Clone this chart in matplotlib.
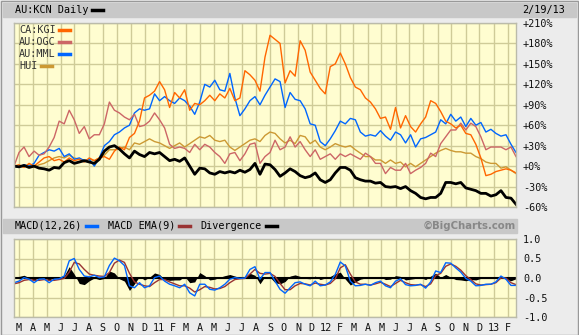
import matplotlib
matplotlib.use("Agg")
import matplotlib.pyplot as plt
import matplotlib.dates as mdates
from matplotlib.patches import Rectangle
import numpy as np
import pandas as pd

# percent change since 2/19/10, one reading roughly every 11 days
kcn = [0, -1, 1, -2, 0, -3, -4, -6, -2, -3, 5, 8, 4, 6, 8, 6, 4, 10, 22, 28,
       30, 25, 18, 12, 22, 17, 14, 20, 18, 20, 14, 8, 10, 7, 12, 0, -12, -3, -4, -10,
       -12, -8, -10, -8, -10, -6, -9, -5, 4, -12, 3, 2, -5, -15, -10, -4, -8, -14, -17, -15,
       -10, -20, -24, -20, -10, -2, -2, -6, -17, -20, -22, -22, -25, -24, -30, -31, -30, -33, -30, -36,
       -40, -46, -48, -46, -46, -40, -24, -24, -26, -24, -32, -34, -36, -40, -40, -44, -42, -36, -46, -47,
       -56]
kgi = [0, 2, -2, 4, 0, 6, 12, 14, 8, 10, 6, 12, 8, 10, 6, 12, 8, 12, 14, 10,
       22, 28, 24, 42, 48, 66, 100, 104, 110, 124, 112, 86, 108, 100, 112, 82, 92, 90, 96, 104,
       96, 106, 100, 114, 96, 100, 140, 134, 126, 110, 160, 192, 186, 180, 122, 140, 132, 184, 170, 138,
       126, 114, 106, 146, 150, 166, 150, 130, 116, 112, 100, 94, 84, 70, 72, 54, 86, 56, 74, 58,
       50, 62, 72, 96, 92, 80, 66, 62, 56, 60, 48, 46, 32, 12, -14, -12, -8, -6, -4, -6,
       -10]
ogc = [0, 20, 28, 14, 22, 16, 18, 28, 42, 66, 62, 82, 68, 48, 58, 40, 46, 46, 62, 94,
       82, 78, 72, 68, 76, 58, 60, 66, 78, 68, 56, 32, 26, 28, 26, 20, 32, 24, 32, 28,
       20, 14, 4, 18, 20, 8, 18, 32, 34, 4, 14, 20, 38, 24, 28, 43, 28, 36, 24, 14,
       24, 10, 14, 18, 10, 18, 14, 18, 14, 10, 19, 14, 4, 4, -11, -2, -6, -6, 4, -11,
       -6, -2, 4, 19, 14, 33, 43, 53, 53, 63, 53, 63, 58, 43, 24, 28, 28, 28, 24, 28,
       14]
mml = [0, -2, 2, 0, 4, 16, 20, 24, 22, 26, 14, 18, 10, 12, 8, 10, 0, 12, 30, 36,
       46, 50, 56, 60, 78, 84, 82, 84, 106, 96, 102, 96, 92, 100, 96, 88, 76, 94, 120, 116,
       126, 112, 110, 136, 100, 74, 84, 96, 102, 90, 104, 116, 128, 124, 86, 108, 98, 96, 84, 62,
       60, 36, 30, 40, 52, 66, 62, 70, 68, 50, 44, 46, 44, 52, 44, 38, 50, 46, 34, 46,
       28, 40, 42, 46, 50, 68, 62, 76, 66, 72, 58, 70, 60, 64, 50, 54, 48, 44, 46, 32,
       20]
hui = [0, -2, 0, 2, -2, 2, 4, 8, 12, 14, 12, 16, 12, 10, 8, 10, 8, 12, 16, 24,
       24, 26, 28, 24, 34, 32, 36, 40, 36, 34, 30, 26, 30, 34, 28, 33, 38, 43, 41, 45,
       38, 36, 38, 28, 23, 28, 33, 38, 40, 36, 45, 50, 48, 40, 34, 38, 33, 45, 43, 33,
       38, 28, 24, 28, 33, 30, 28, 30, 24, 19, 14, 14, 9, 9, 4, 9, 4, 6, -1, 4,
       -1, 4, 9, 14, 19, 23, 26, 23, 21, 21, 19, 19, 14, 11, 6, 4, 4, -3, -1, -6,
       -11]

macd = [-0.12, -0.08, 0.01, -0.03, -0.12, -0.03, -0.02, -0.12, -0.03, -0.02,
        0.05, 0.44, 0.50, 0.22, 0.05, 0.03, 0.07, 0.01, 0.03, 0.32,
        0.51, 0.44, 0.32, -0.20, -0.25, -0.12, -0.25, -0.20, 0.01, 0.05,
        -0.08, -0.16, -0.20, -0.25, -0.16, -0.38, -0.46, -0.16, -0.16, -0.29,
        -0.31, -0.25, -0.16, -0.03, 0.01, -0.01, 0.00, 0.22, 0.29, -0.03,
        0.14, 0.14, -0.08, -0.29, -0.39, -0.25, -0.12, -0.10, -0.16, -0.20,
        -0.08, -0.20, -0.18, -0.10, 0.09, 0.41, 0.31, -0.08, -0.20, -0.19,
        -0.16, -0.19, -0.12, -0.08, -0.20, -0.25, -0.08, -0.02, -0.17, -0.20,
        -0.19, -0.16, -0.26, -0.10, 0.18, 0.14, 0.39, 0.38, 0.26, 0.15,
        -0.01, -0.08, -0.20, -0.19, -0.16, -0.16, -0.10, 0.05, -0.03, -0.19,
        -0.19]
signal = [-0.15, -0.12, -0.06, -0.04, -0.06, -0.06, -0.04, -0.06, -0.06, -0.04,
          -0.01, 0.15, 0.40, 0.36, 0.22, 0.10, 0.07, 0.05, 0.04, 0.14,
          0.38, 0.46, 0.40, 0.12, -0.10, -0.16, -0.20, -0.22, -0.12, -0.04,
          -0.04, -0.10, -0.15, -0.20, -0.20, -0.26, -0.36, -0.30, -0.22, -0.24,
          -0.28, -0.27, -0.22, -0.12, -0.04, -0.02, -0.01, 0.10, 0.22, 0.12,
          0.10, 0.12, 0.04, -0.14, -0.30, -0.30, -0.20, -0.14, -0.15, -0.18,
          -0.13, -0.16, -0.18, -0.14, -0.02, 0.26, 0.34, 0.10, -0.10, -0.16,
          -0.16, -0.18, -0.15, -0.11, -0.16, -0.22, -0.14, -0.06, -0.12, -0.17,
          -0.18, -0.17, -0.22, -0.15, 0.06, 0.12, 0.30, 0.36, 0.30, 0.20,
          0.06, -0.04, -0.15, -0.18, -0.17, -0.16, -0.12, 0.00, 0.00, -0.12,
          -0.17]

dates = pd.date_range("2010-02-19", "2013-02-19", periods=len(kcn))
divergence = np.array(macd) - np.array(signal)

series = [("CA:KGI", kgi, "#ff6600", 1.0),
          ("AU:OGC", ogc, "#cc6666", 1.0),
          ("AU:MML", mml, "#0066ff", 1.0),
          ("HUI", hui, "#cc9933", 1.0)]

bg = "#ececec"
plot_bg = "#fffdd0"
grid_c = "#cfcb98"
mono = "DejaVu Sans Mono"

fig = plt.figure(figsize=(5.79, 3.35), dpi=100, facecolor=bg)

# header bars
fig.patches.append(Rectangle((3 / 579, 1 - 17 / 335), 573 / 579, 14 / 335,
                             transform=fig.transFigure, color="#c8c8c8", zorder=0))
fig.patches.append(Rectangle((3 / 579, 1 - 233 / 335), 514 / 579, 14 / 335,
                             transform=fig.transFigure, color="#c8c8c8", zorder=0))
fig.patches.append(Rectangle((0.5 / 579, 0.5 / 335), 577.5 / 579, 333.5 / 335, fill=False,
                             transform=fig.transFigure, ec="#999999", lw=1, zorder=0))


def style_axes(ax):
    ax.set_facecolor(plot_bg)
    ax.xaxis.set_major_locator(mdates.MonthLocator())
    ax.grid(True, color=grid_c, lw=1.0)
    ax.set_axisbelow(True)
    ax.yaxis.tick_right()
    ax.tick_params(length=0, labelsize=7.3, pad=5, colors="#111111")
    for lab in ax.get_yticklabels():
        lab.set_family(mono)
    for s in ax.spines.values():
        s.set_color("#bbbbaa")
        s.set_linewidth(1)
    ax.set_xlim(dates[0], dates[-1])


ax = fig.add_axes([14 / 579, 1 - 207 / 335, 502 / 579, 184 / 335])
style_axes(ax)
ax.set_ylim(-60, 210)
ax.set_yticks(range(-60, 211, 30))
ax.set_yticklabels([f"{v:+d}%" if v != 0 else "+0%" for v in range(-60, 211, 30)], family=mono)
ax.set_xticklabels([])
for name, vals, col, lw in series[::-1]:
    ax.plot(dates, vals, color=col, lw=lw)
ax.plot(dates, kcn, color="black", lw=2.0)

# legend inside the main panel
for i, (name, vals, col, lw) in enumerate(series):
    yy = 1 - (30 + 12 * i) / 335
    fig.text(19 / 579, yy, name, family=mono, fontsize=7.3, color="#333333", va="center")
    x0 = (19 + 6 * len(name) + 4) / 579
    fig.add_artist(plt.Line2D([x0, x0 + 11 / 579], [yy, yy], color=col, lw=2.5,
                              transform=fig.transFigure))

fig.text(15 / 579, 1 - 10 / 335, "AU:KCN Daily", family=mono, fontsize=7.3, va="center")
fig.add_artist(plt.Line2D([92 / 579, 103 / 579], [1 - 10 / 335] * 2, color="black", lw=2.5,
                          transform=fig.transFigure))
fig.text(565 / 579, 1 - 10 / 335, "2/19/13", family=mono, fontsize=7.3, va="center", ha="right")

# MACD panel
ax2 = fig.add_axes([14 / 579, 1 - 317 / 335, 502 / 579, 78 / 335])
style_axes(ax2)
ax2.set_ylim(-1.0, 1.0)
ax2.set_yticks([-1.0, -0.5, 0.0, 0.5, 1.0])
ax2.set_yticklabels(["-1.0", "-0.5", "0.0", "0.5", "1.0"], family=mono)
ax2.fill_between(dates, 0, divergence, color="black", lw=0)
ax2.axhline(0, color="black", lw=1.5)
ax2.plot(dates, signal, color="#993333", lw=1.0)
ax2.plot(dates, macd, color="#0066ff", lw=1.0)


def month_label(d, pos=None):
    d = mdates.num2date(d)
    if d.month == 1:
        return f"{d.year % 100:02d}"
    return "JFMAMJJASOND"[d.month - 1]


ax2.xaxis.set_major_formatter(plt.FuncFormatter(month_label))
ax2.tick_params(axis="x", pad=4)
for lab in ax2.get_xticklabels():
    lab.set_family(mono)

ymh = 1 - 226 / 335
fig.text(15 / 579, ymh, "MACD(12,26)", family=mono, fontsize=7.3, va="center")
fig.add_artist(plt.Line2D([86 / 579, 97 / 579], [ymh] * 2, color="#0066ff", lw=2.5,
                          transform=fig.transFigure))
fig.text(108 / 579, ymh, "MACD EMA(9)", family=mono, fontsize=7.3, va="center")
fig.add_artist(plt.Line2D([179 / 579, 190 / 579], [ymh] * 2, color="#993333", lw=2.5,
                          transform=fig.transFigure))
fig.text(200 / 579, ymh, "Divergence", family=mono, fontsize=7.3, va="center")
fig.add_artist(plt.Line2D([266 / 579, 277 / 579], [ymh] * 2, color="black", lw=2.5,
                          transform=fig.transFigure))
fig.text(516 / 579, ymh, "\u00a9BigCharts.com", fontsize=7.3, weight="bold", color="#888888",
         va="center", ha="right")

fig.savefig("out.png", dpi=100, facecolor=bg)
